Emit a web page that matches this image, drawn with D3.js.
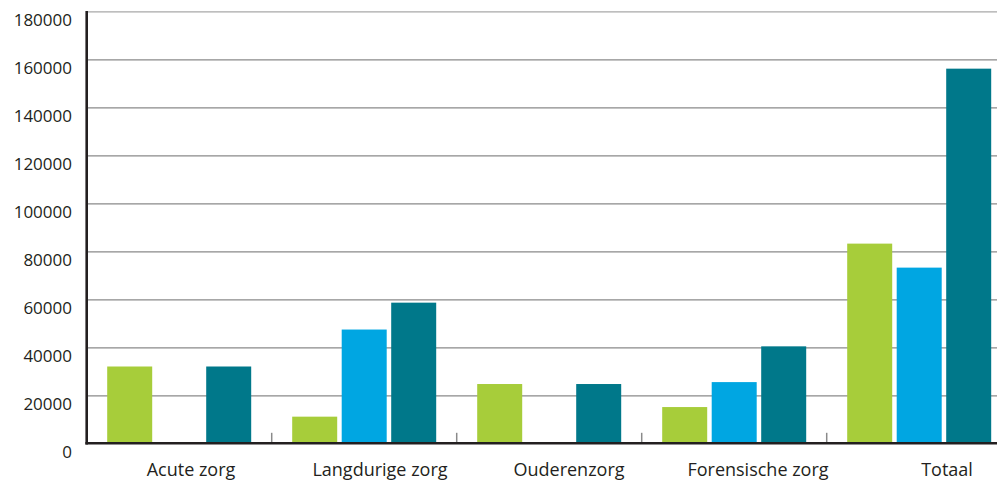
<!DOCTYPE html>
<html>
<head>
<meta charset="utf-8">
<script src="https://cdn.jsdelivr.net/npm/d3@7/dist/d3.min.js"></script>
<style>
  html, body { margin: 0; padding: 0; background: #fff; }
  svg { display: block; }
  text { font-family: "Open Sans", sans-serif; fill: #231f20; }
</style>
</head>
<body>
<svg id="chart" width="997" height="482"></svg>
<script>
const categories = ["Acute zorg", "Langdurige zorg", "Ouderenzorg", "Forensische zorg", "Totaal"];
const series = ["s1", "s2", "s3"];
const seriesColors = ["#a7cd3a", "#00a6e2", "#00788a"];
const values_s1 = [32000, 11100, 24700, 15100, 83200];
const values_s2 = [0, 47400, 0, 25500, 73200];
const values_s3 = [32000, 58600, 24700, 40400, 156100];
const yTicks = [0, 20000, 40000, 60000, 80000, 100000, 120000, 140000, 160000, 180000];

const allValues = [values_s1, values_s2, values_s3];
const svg = d3.select("#chart");

const left = 86.7, bandW = 185;
const y = d3.scaleLinear().domain([0, 180000]).range([443.3, 11.3]);
const x0 = d3.scaleBand().domain(categories).range([left, left + bandW * categories.length]);
const x1 = d3.scaleBand().domain(series).range([20.5, 164.5]).paddingInner(4.5 / 49.5);
const xLabel = d3.scaleBand().domain(categories).range([96.5, 96.5 + 189 * categories.length]);

// gridlines
const gy = svg.append("g").attr("transform", `translate(${left},0)`)
  .call(d3.axisLeft(y).tickValues(yTicks.filter(t => t > 0)).tickSize(-(997 - left)).tickFormat(""));
gy.select(".domain").remove();
gy.selectAll(".tick line").attr("stroke", (d) => d === 180000 ? "#a8a8a8" : "#8a8a8a").attr("stroke-width", 1.3);

// y labels (drawn slightly below gridlines, as in the reference)
svg.append("g").selectAll("text").data(yTicks).join("text")
  .attr("x", 72).attr("y", d => y(d) + 9).attr("dy", "0.35em")
  .attr("text-anchor", "end").attr("font-size", 17).text(d => d);

// bars
const rows = categories.map((c, i) => ({ cat: c, vals: series.map((s, j) => ({ s, j, v: allValues[j][i] })) }));
svg.append("g").selectAll("g").data(rows).join("g")
  .attr("transform", d => `translate(${x0(d.cat)},0)`)
  .selectAll("rect").data(d => d.vals.filter(e => e.v > 0)).join("rect")
  .attr("x", d => x1(d.s)).attr("width", x1.bandwidth())
  .attr("y", d => y(d.v)).attr("height", d => y(0) - y(d.v))
  .attr("fill", d => seriesColors[d.j]);

// category separator ticks
svg.append("g").selectAll("line").data(categories.slice(1)).join("line")
  .attr("x1", d => x0(d)).attr("x2", d => x0(d))
  .attr("y1", y(0) - 10.5).attr("y2", y(0))
  .attr("stroke", "#8a8a8a").attr("stroke-width", 1.5);

// axes lines
svg.append("line").attr("x1", left).attr("x2", left).attr("y1", 11).attr("y2", y(0) + 1.3)
  .attr("stroke", "#231f20").attr("stroke-width", 2.6);
svg.append("line").attr("x1", left - 1.3).attr("x2", 997).attr("y1", y(0)).attr("y2", y(0))
  .attr("stroke", "#231f20").attr("stroke-width", 2.6);

// x labels
svg.append("g").selectAll("text").data(categories).join("text")
  .attr("x", d => xLabel(d) + xLabel.bandwidth() / 2).attr("y", 476)
  .attr("text-anchor", "middle").attr("font-size", 18).text(d => d);
</script>
</body>
</html>
